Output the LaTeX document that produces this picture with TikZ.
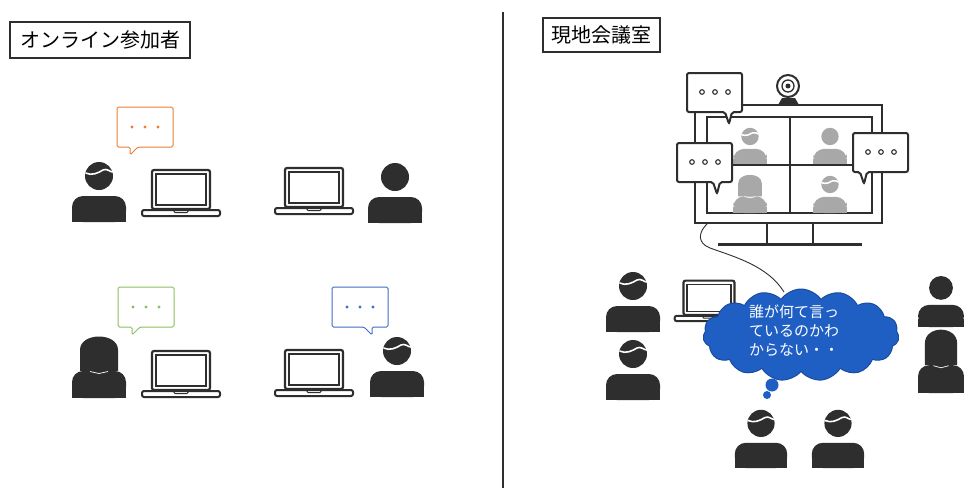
\documentclass[tikz,border=0pt]{standalone}
\usepackage{fontspec}
\setmainfont{Noto Sans CJK JP}
\usepackage{tikz}
\usetikzlibrary{shapes.symbols}

\definecolor{ink}{HTML}{2E2E2E}
\definecolor{chatorange}{HTML}{EE7D31}
\definecolor{chatgreen}{HTML}{8DC05E}
\definecolor{chatblue}{HTML}{3F6FC6}
\definecolor{cloudblue}{HTML}{1F5FC4}
\definecolor{cloudedge}{HTML}{1A4C9E}
\definecolor{screengray}{HTML}{A8A8A8}

\newcommand\manshape{%
  \fill[rounded corners=11] (-27,0) rectangle (27,-26);
  \fill (-27,-10) rectangle (27,0);
  \fill (0,-46) circle (14);}

\tikzset{
  guest/.style={color=ink},
  man/.pic={
    \manshape
  },
  hairman/.pic={
    \manshape
    \draw[white, line width=1.6] (-13.5,-49) .. controls (-7,-46) and (-1,-49) .. (4,-52)
      .. controls (8,-54) and (11,-50) .. (13.8,-50);
  },
  woman/.pic={
    \fill (-19,-27) -- (-19,-48) .. controls (-19,-66) and (19,-66) .. (19,-48) -- (19,-27) -- cycle;
    \fill (0,-47) circle (14);
    \fill[rounded corners=11] (-27,0) rectangle (27,-27);
    \fill (-27,-10) rectangle (27,0);
    \draw[white, line width=0.7] (-9,-26.5) -- (0,-24.5) -- (9,-26.5);
  },
  laptop/.pic={
    \draw[ink, line width=2.2, rounded corners=2] (-29,-8) rectangle (29,-47);
    \draw[ink, line width=1.2] (-25,-12) rectangle (25,-43);
    \draw[ink, line width=2, rounded corners=2] (-39,-1) rectangle (39,-7);
    \draw[ink, line width=1] (-8,-7) -- (-6,-4.5) -- (6,-4.5) -- (8,-7);
  },
  chat/.pic={
    \draw[line width=1, rounded corners=1.5, fill=white] (0,0) -- (56,0) -- (56,40) -- (#1+8,40)
      -- (#1,48) -- (#1,40) -- (0,40) -- cycle;
    \foreach \dx in {15,28,41}
      \fill (\dx,20) circle (1.7);
  },
  talk/.pic={
    \draw[ink, line width=2, rounded corners=2, fill=white] (0,0) -- (55,0) -- (55,39) -- (#1+7,39)
      -- (#1+4,51) -- (#1,39) -- (0,39) -- cycle;
    \foreach \dx in {15,28,41}
      \draw[ink, line width=1.1] (\dx,19) circle (2.3);
  }
}

\begin{document}
\begin{tikzpicture}[x=1pt, y=-1pt]

\fill[white] (0,0) rectangle (965,488);
\useasboundingbox (0,0) rectangle (965,488);

% titles and divider
\node[draw=ink, line width=1.2, minimum width=180, minimum height=36, inner sep=0,
   font=\fontsize{20}{22}\selectfont] (online) at (100,40) {オンライン参加者};
\node[draw=ink, line width=1.2, minimum width=117, minimum height=34, inner sep=0,
   font=\fontsize{20}{22}\selectfont] (room) at (601.5,35) {現地会議室};
\draw[ink, line width=2.5] (503,12) -- (503,488);

% online side
\pic[guest] (p1) at (99,222) {hairman};
\pic (l1) at (181,217) {laptop};
\pic[color=chatorange] (b1) at (117,107) {chat=13};

\pic (l2) at (314,215) {laptop};
\pic[guest] (p2) at (395,223) {man};

\pic[guest] (p3) at (99,398) {woman};
\pic (l3) at (181,398) {laptop};
\pic[color=chatgreen] (b2) at (118,287) {chat=14};

\pic (l4) at (314,397) {laptop};
\pic[guest] (p4) at (397,397) {hairman};
\pic[color=chatblue, xscale=-1] (b3) at (388,287) {chat=16};

% monitor with webcam
\draw[ink, line width=2.5] (695,105) rectangle (882,223);
\draw[ink, line width=2.5] (707,117) rectangle (872,213);
\pic[color=screengray, scale=0.62] (s1) at (750,165) {hairman};
\pic[color=screengray, scale=0.62] (s2) at (830,165) {man};
\pic[color=screengray, scale=0.62] (s3) at (750,213) {woman};
\pic[color=screengray, scale=0.62] (s4) at (830,213) {hairman};
\draw[ink, line width=2] (790,117) -- (790,213);
\draw[ink, line width=2] (707,165) -- (872,165);
\draw[ink, line width=2.5] (767,223) -- (767,243) (813,223) -- (813,243);
\draw[ink, line width=3] (718,244) -- (862,244);
\fill[ink] (778,105) -- (782,98) -- (795,98) -- (799,105) -- cycle;
\draw[ink, line width=2, fill=white] (788,86) circle (11);
\draw[ink, line width=1.3] (788,86) circle (6);
\fill[ink] (788,86) circle (2.5);

\pic (t1) at (687,73) {talk=38};
\pic (t2) at (677,143) {talk=36};
\pic (t3) at (853,133) {talk=7};

% room side
\pic[guest] (r1) at (633,332) {hairman};
\pic[guest] (r2) at (633,400) {hairman};
\pic[scale=0.88] (l5) at (709,322) {laptop};
\pic[guest, scale=0.85] (r3) at (941,327) {man};
\pic[guest, xscale=0.85, yscale=1.03] (r4) at (941,393) {woman};
\pic[guest, scale=0.97] (r5) at (761,468) {hairman};
\pic[guest, scale=0.97] (r6) at (838,468) {hairman};

\coordinate (plug) at (708,223);
\coordinate (cableend) at (784,292);
\draw[ink, line width=0.9] (plug) .. controls (698,232) and (697,243) .. (710,248)
   .. controls (735,257) and (768,266) .. (cableend);

\node[cloud, cloud puffs=15, cloud puff arc=110, aspect=2.2, fill=cloudblue, draw=cloudedge,
   line width=1, minimum width=196, minimum height=92, inner sep=0] (worry) at (801,335) {};
\fill[cloudblue] (772,385) circle (6.5);
\fill[cloudblue] (767,395) circle (4);
\node[text=white, align=left, inner sep=0, font=\fontsize{15}{19}\selectfont] (worrytext)
   at (794,331) {誰が何て言っ\\ているのかわ\\からない・・};

\end{tikzpicture}
\end{document}
